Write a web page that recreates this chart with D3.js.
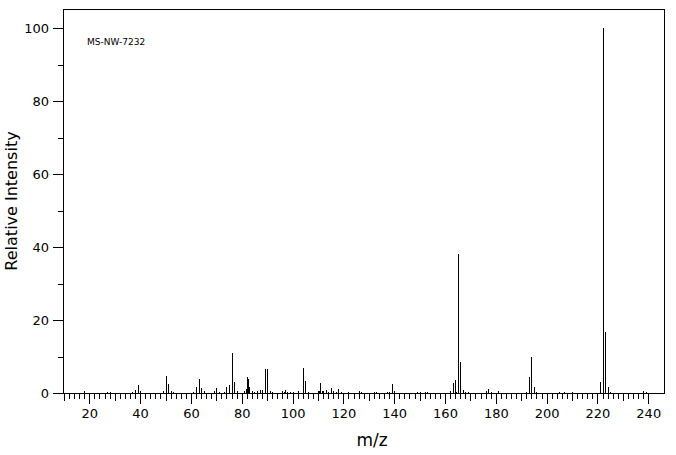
<!DOCTYPE html>
<html>
<head>
<meta charset="utf-8">
<script src="https://cdn.jsdelivr.net/npm/d3@7"></script>
<style>
  html, body { margin: 0; padding: 0; background: #fff; }
  svg { display: block; }
  text { font-family: "DejaVu Sans", sans-serif; fill: #000; }
</style>
</head>
<body>
<div id="chart"></div>
<script>
// m/z values and relative intensities
const mz = [18, 27, 28, 37, 38, 39, 40, 49, 50, 51, 52, 53,
  61, 62, 63, 64, 65, 69, 70, 71, 73, 74, 75, 76, 77, 78,
  81, 81.5, 82, 82.5, 83, 84, 85, 86, 87, 88, 89, 90, 91, 92,
  96, 96.5, 97, 98, 99, 100, 102, 104, 105, 106,
  110, 110.5, 111, 111.5, 112, 113, 114, 115, 116, 117, 118, 119,
  122, 126, 127, 132, 133, 137, 138, 139, 140,
  149, 150, 152, 153,
  162, 163, 164, 164.5, 165, 166, 167, 168, 169,
  176, 177, 178, 181,
  192, 193, 194, 195, 196,
  205, 207, 210,
  221, 222, 223, 224, 225, 238, 239];
const intensity = [0.6, 0.4, 0.4, 0.4, 0.8, 2.2, 0.5, 0.5, 4.6, 2.6, 0.6, 0.4,
  0.3, 1.6, 3.8, 1.3, 0.5, 0.5, 1.4, 0.4, 0.4, 1.6, 2.2, 11.0, 3.0, 0.5,
  0.6, 1.1, 4.4, 3.8, 1.6, 0.5, 0.4, 0.6, 0.8, 0.8, 6.6, 6.6, 0.6, 0.3,
  0.5, 0.4, 0.8, 0.4, 0.4, 0.3, 0.5, 6.8, 3.3, 0.3,
  0.6, 0.6, 2.7, 0.6, 0.6, 0.8, 0.4, 1.4, 0.6, 0.4, 1.1, 0.3,
  0.3, 0.5, 0.3, 0.4, 0.3, 0.3, 0.4, 2.6, 0.5,
  0.3, 0.4, 0.4, 0.3,
  0.5, 2.7, 3.6, 0.3, 38.0, 8.5, 0.8, 0.3, 0.3,
  0.6, 1.1, 0.3, 0.5,
  0.3, 4.4, 9.9, 1.6, 0.3,
  0.3, 0.3, 0.3,
  3.0, 100, 16.7, 1.6, 0.3, 0.6, 0.3];

const xMajorTicks = [20, 40, 60, 80, 100, 120, 140, 160, 180, 200, 220, 240];
const yMajorTicks = [0, 20, 40, 60, 80, 100];
const yMinorTicks = [10, 30, 50, 70, 90];
const xDomain = [9.65, 246.2];
const sampleLabel = "MS-NW-7232";
const xTitle = "m/z";
const yTitle = "Relative Intensity";

const W = 676, H = 455;
const L = 63, R = 664, T = 9, B = 393;

const svg = d3.select("#chart").append("svg")
  .attr("width", W).attr("height", H);

const x = d3.scaleLinear().domain(xDomain).range([L, R]);
const y = d3.scaleLinear().domain([0, 100]).range([B, 28]);

// x ticks: minor every 2, medium every 10, major (labelled) every 20
const xMinor = d3.range(10, 241, 2).filter(v => v % 10 !== 0);
const xMedium = d3.range(10, 241, 10).filter(v => v % 20 !== 0);

function styleAxis(g) {
  g.select(".domain").remove();
  g.selectAll(".tick line").attr("stroke", "#000").attr("shape-rendering", "crispEdges");
  g.selectAll("text").style("font-size", "13px").style("font-family", "DejaVu Sans, sans-serif");
}

svg.append("g").attr("transform", `translate(0,${B})`)
  .call(d3.axisBottom(x).tickValues(xMinor).tickSize(6).tickFormat(""))
  .call(styleAxis);
svg.append("g").attr("transform", `translate(0,${B})`)
  .call(d3.axisBottom(x).tickValues(xMedium).tickSize(8).tickFormat(""))
  .call(styleAxis);
svg.append("g").attr("transform", `translate(0,${B})`)
  .call(d3.axisBottom(x).tickValues(xMajorTicks).tickSize(11).tickPadding(5).tickFormat(d3.format("d")))
  .call(styleAxis);

svg.append("g").attr("transform", `translate(${L},0)`)
  .call(d3.axisLeft(y).tickValues(yMinorTicks).tickSize(5).tickFormat(""))
  .call(styleAxis);
svg.append("g").attr("transform", `translate(${L},0)`)
  .call(d3.axisLeft(y).tickValues(yMajorTicks).tickSize(10).tickPadding(4).tickFormat(d3.format("d")))
  .call(styleAxis);

// peaks
const peaks = mz.map((m, i) => ({ m, v: intensity[i] }));
svg.append("g").selectAll("line").data(peaks).join("line")
  .attr("x1", d => Math.round(x(d.m)) + 0.5)
  .attr("x2", d => Math.round(x(d.m)) + 0.5)
  .attr("y1", y(0))
  .attr("y2", d => y(d.v))
  .attr("stroke", "#000")
  .attr("stroke-width", 1)
  .attr("shape-rendering", "crispEdges");

// frame
svg.append("rect")
  .attr("x", L + 0.5).attr("y", T + 0.5)
  .attr("width", R - L).attr("height", B - T)
  .attr("fill", "none").attr("stroke", "#000").attr("stroke-width", 1)
  .attr("shape-rendering", "crispEdges");

// sample label
svg.append("text").attr("x", 87).attr("y", 44.5)
  .style("font-size", "9px").text(sampleLabel);

// axis titles
svg.append("text").attr("x", 372).attr("y", 446)
  .attr("text-anchor", "middle").style("font-size", "17px").text(xTitle);
svg.append("text")
  .attr("transform", `translate(17,201) rotate(-90)`)
  .attr("text-anchor", "middle").style("font-size", "16px").text(yTitle);
</script>
</body>
</html>
